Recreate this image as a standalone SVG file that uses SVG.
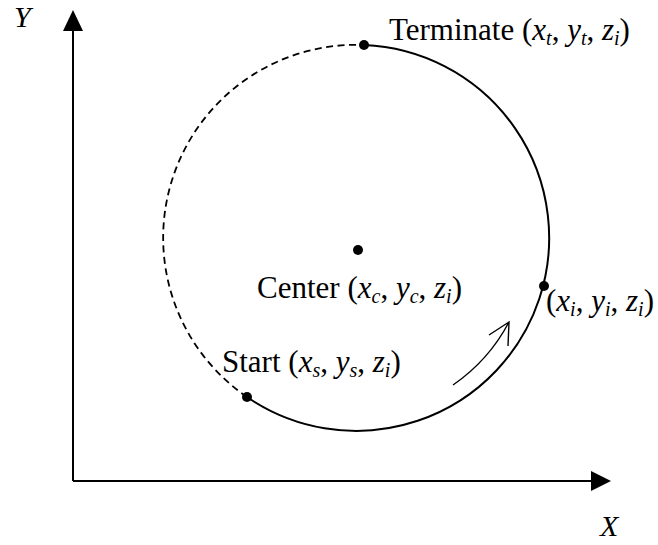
<svg xmlns="http://www.w3.org/2000/svg" width="658" height="545" viewBox="0 0 658 545">
<style>
.it{font-style:italic}
.sub{font-size:20px;font-style:italic}
.ax{stroke:#000;stroke-width:2;fill:none}
.arc{stroke:#000;stroke-width:2;fill:none}
.dash{stroke:#000;stroke-width:1.8;fill:none;stroke-dasharray:7,4.5}
.dot{fill:#000}
</style>
<rect width="658" height="545" fill="#fff"/>
<g id="connectors">
  <path class="ax" d="M73,481 V28"/>
  <polygon points="73,10 63,31 83,31" fill="#000"/>
  <path class="ax" d="M73,481 H593"/>
  <polygon points="611,481 591,471 591,491" fill="#000"/>
  <path class="arc" d="M364,45 A193,193 0 1 1 247,397"/>
  <path class="dash" d="M247,397 A193,193 0 0 1 364,45"/>
  <path d="M453,385 A176,176 0 0 0 509,322 M489,335 L509,322 L508,346" stroke="#000" stroke-width="1.4" fill="none"/>
</g>
<g id="axis-y"><text x="14" y="27" class="it" font-family="Liberation Serif" font-size="30">Y</text></g>
<g id="axis-x"><text x="600" y="536" class="it" font-family="Liberation Serif" font-size="30">X</text></g>
<g id="terminate">
  <circle class="dot" cx="364" cy="45" r="5"/>
  <text x="389" y="40" font-family="Liberation Serif" font-size="31">Terminate (<tspan class="it">x</tspan><tspan class="sub" dy="5">t</tspan><tspan dy="-5">, </tspan><tspan class="it">y</tspan><tspan class="sub" dy="5">t</tspan><tspan dy="-5">, </tspan><tspan class="it">z</tspan><tspan class="sub" dy="5">i</tspan><tspan dy="-5">)</tspan></text>
</g>
<g id="center">
  <circle class="dot" cx="358" cy="250" r="5"/>
  <text x="257" y="298" font-family="Liberation Serif" font-size="31">Center (<tspan class="it">x</tspan><tspan class="sub" dy="5">c</tspan><tspan dy="-5">, </tspan><tspan class="it">y</tspan><tspan class="sub" dy="5">c</tspan><tspan dy="-5">, </tspan><tspan class="it">z</tspan><tspan class="sub" dy="5">i</tspan><tspan dy="-5">)</tspan></text>
</g>
<g id="point-i">
  <circle class="dot" cx="544" cy="286" r="5"/>
  <text x="546" y="311" font-family="Liberation Serif" font-size="31">(<tspan class="it">x</tspan><tspan class="sub" dy="5">i</tspan><tspan dy="-5">, </tspan><tspan class="it">y</tspan><tspan class="sub" dy="5">i</tspan><tspan dy="-5">, </tspan><tspan class="it">z</tspan><tspan class="sub" dy="5">i</tspan><tspan dy="-5">)</tspan></text>
</g>
<g id="start">
  <circle class="dot" cx="247" cy="397" r="5"/>
  <text x="222" y="372" font-family="Liberation Serif" font-size="31">Start (<tspan class="it">x</tspan><tspan class="sub" dy="5">s</tspan><tspan dy="-5">, </tspan><tspan class="it">y</tspan><tspan class="sub" dy="5">s</tspan><tspan dy="-5">, </tspan><tspan class="it">z</tspan><tspan class="sub" dy="5">i</tspan><tspan dy="-5">)</tspan></text>
</g>
</svg>
